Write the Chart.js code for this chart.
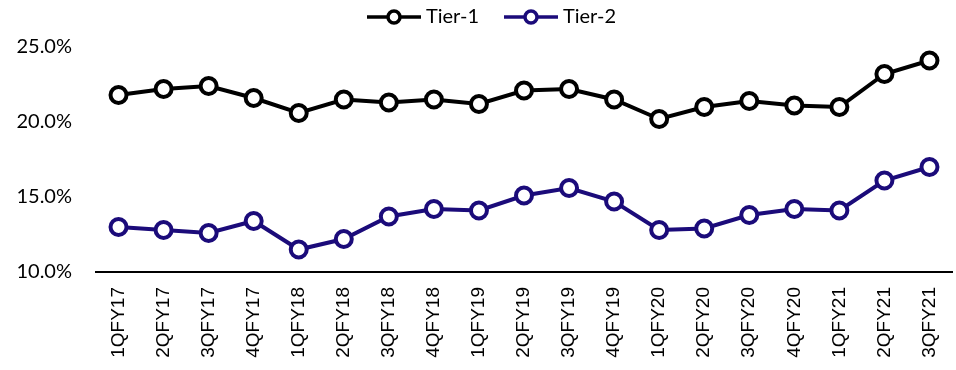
<!DOCTYPE html>
<html>
<head>
<meta charset="utf-8">
<script src="https://cdn.jsdelivr.net/npm/chart.js@4"></script>
<style>
  html, body { margin: 0; padding: 0; background: #fff; }
  #wrap { width: 956px; height: 370px; }
</style>
</head>
<body>
<div id="wrap"><canvas id="tierChart" width="956" height="370"></canvas></div>
<script>
// Quarterly capital ratios
const quarters = ["1QFY17", "2QFY17", "3QFY17", "4QFY17", "1QFY18", "2QFY18", "3QFY18", "4QFY18",
  "1QFY19", "2QFY19", "3QFY19", "4QFY19", "1QFY20", "2QFY20", "3QFY20", "4QFY20",
  "1QFY21", "2QFY21", "3QFY21"];
const tier1 = [21.8, 22.2, 22.4, 21.6, 20.6, 21.5, 21.3, 21.5, 21.2, 22.1, 22.2, 21.5,
  20.2, 21.0, 21.4, 21.1, 21.0, 23.2, 24.1];
const tier2 = [13.0, 12.8, 12.6, 13.4, 11.5, 12.2, 13.7, 14.2, 14.1, 15.1, 15.6, 14.7,
  12.8, 12.9, 13.8, 14.2, 14.1, 16.1, 17.0];
const yTicks = [10, 15, 20, 25];

const NAVY = "#1b0b7a";

// legend swatch: short line with an open circle, drawn at the right of the box
function swatch(color) {
  const c = document.createElement("canvas");
  c.width = 82; c.height = 20;
  const g = c.getContext("2d");
  g.strokeStyle = color;
  g.lineWidth = 3.5;
  g.beginPath(); g.moveTo(28, 10); g.lineTo(82, 10); g.stroke();
  g.fillStyle = "#fff";
  g.beginPath(); g.arc(55, 10, 6, 0, Math.PI * 2); g.fill(); g.stroke();
  return c;
}
const swatches = [swatch("#000"), swatch(NAVY)];

function series(label, data, color) {
  return {
    label: label,
    data: data,
    borderColor: color,
    borderWidth: 4,
    pointRadius: 8,
    pointHoverRadius: 8,
    pointBorderWidth: 4,
    pointBackgroundColor: "#fff",
    pointBorderColor: color,
    tension: 0
  };
}

// fixed legend band height and a small sideways nudge
const legendBox = {
  id: "legendBox",
  beforeLayout(chart) {
    const lg = chart.legend;
    if (lg && !lg._fixed) {
      const fit = lg.fit.bind(lg);
      lg.fit = function () { fit(); this.height = 42; };
      lg._fixed = true;
    }
  },
  afterLayout(chart) {
    const lg = chart.legend;
    if (lg) { lg.left -= 3; lg.right -= 3; }
  }
};

new Chart(document.getElementById("tierChart"), {
  type: "line",
  data: {
    labels: quarters,
    datasets: [series("Tier-1", tier1, "#000"), series("Tier-2", tier2, NAVY)]
  },
  plugins: [legendBox],
  options: {
    responsive: false,
    animation: false,
    layout: { autoPadding: false, padding: { left: 14, right: 4, top: 5, bottom: 0 } },
    plugins: {
      tooltip: { enabled: false },
      legend: {
        position: "top",
        labels: {
          usePointStyle: true,
          pointStyleWidth: 72,
          padding: 2,
          color: "#000",
          font: { family: "Lato", size: 20 },
          generateLabels(chart) {
            return chart.data.datasets.map((ds, i) => ({
              text: ds.label,
              pointStyle: swatches[i],
              datasetIndex: i,
              fontColor: "#000",
              hidden: false,
              lineWidth: 0
            }));
          }
        }
      }
    },
    scales: {
      x: {
        offset: true,
        grid: { display: false, drawTicks: false },
        border: { display: true, color: "#000", width: 2 },
        ticks: {
          minRotation: 90,
          maxRotation: 90,
          autoSkip: false,
          padding: 15,
          color: "#000",
          font: { family: "Liberation Sans", size: 19 }
        },
        afterFit(scale) {
          scale.height = 98;
          scale.paddingLeft = 0;
          scale.paddingRight = 0;
        }
      },
      y: {
        min: 10,
        max: 25,
        grid: { display: false, drawTicks: false },
        border: { display: false },
        afterBuildTicks(scale) { scale.ticks = yTicks.map(v => ({ value: v })); },
        ticks: {
          padding: 24,
          color: "#000",
          font: { family: "Lato", size: 20 },
          callback: v => v.toFixed(1) + "%"
        },
        afterFit(scale) { scale.width = 82; }
      }
    }
  }
});
</script>
</body>
</html>
